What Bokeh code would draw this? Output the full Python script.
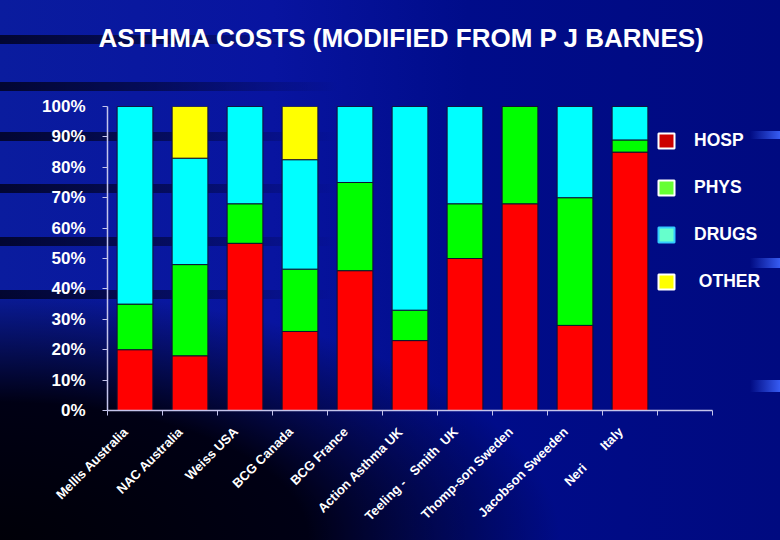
from bokeh.plotting import figure
from bokeh.models import (ColumnDataSource, Range1d, FixedTicker, PrintfTickFormatter,
                          Legend, LegendItem, Title)
from bokeh.core.properties import value
from bokeh.embed import file_html
from bokeh.resources import INLINE
import math

# ---- data ----
categories = ["Mellis Australia", "NAC Australia", "Weiss USA", "BCG Canada", "BCG France",
              "Action Asthma UK", "Teeling -\u00a0\u00a0\u00a0Smith\u00a0 UK", "Thomp-son Sweden",
              "Jacobson Sweeden", "Neri\u00a0\u00a0\u00a0\u00a0\u00a0\u00a0\u00a0Italy"]
hosp  = [20, 18, 55, 26,   46, 23, 50, 68, 28, 85]
phys  = [15, 30, 13, 20.5, 29, 10, 18, 32, 42, 4]
drugs = [65, 35, 32, 36,   25, 67, 32, 0,  30, 11]
other = [0,  17, 0,  17.5, 0,  0,  0,  0,  0,  0]
series = ["HOSP", "PHYS", "DRUGS", "OTHER"]
legend_labels = ["HOSP", "PHYS", "DRUGS", "\u00a0OTHER"]
y_ticks = [0, 10, 20, 30, 40, 50, 60, 70, 80, 90, 100]
title_text = "ASTHMA COSTS (MODIFIED FROM P J BARNES)"

bar_colors = ["#ff0000", "#00ff00", "#00ffff", "#ffff00"]
legend_fill = ["#cc0000", "#66ff33", "#66ffcc", "#ffff00"]
legend_line = ["#ffffff", "#ffffff", "#33ccff", "#ffffff"]

n_slots = len(categories) + 1          # one empty slot at the right (legend area)
axis_px = 605                          # pixel length of the drawn x axis
frame_px = 668                         # frame width (room for the legend labels)
xs = [i + 0.5 for i in range(len(categories))]
label_pos = [x - 0.17 for x in xs]
src = ColumnDataSource(dict(x=xs, HOSP=hosp, PHYS=phys, DRUGS=drugs, OTHER=other))

p = figure(width=780, height=540, output_backend="svg", toolbar_location=None,
           x_range=Range1d(0, n_slots * frame_px / axis_px), y_range=Range1d(0, 100),
           min_border_left=107, min_border_right=780 - 107 - frame_px,
           min_border_top=106, min_border_bottom=130)
p.border_fill_alpha = 0
p.background_fill_alpha = 0
p.outline_line_color = None
p.grid.visible = False

p.vbar_stack(series, x="x", width=0.65, source=src, fill_color=bar_colors,
             line_color="#101030", line_width=1)

# spacer between frame and title, then the title itself
spacer = Title(text="\u00a0", text_font="Liberation Sans", text_font_size="26px", standoff=20)
p.add_layout(spacer, "above")
t = Title(text=title_text, align="left", offset=-9, text_color="white",
          text_font="Liberation Sans", text_font_size="26px", text_font_style="bold",
          standoff=4)
p.add_layout(t, "above")

axis_col = "#c4c4ec"
# y axis
ya = p.yaxis[0]
ya.ticker = FixedTicker(ticks=y_ticks)
ya.formatter = PrintfTickFormatter(format="%d%%")
ya.axis_line_color = axis_col
ya.axis_line_width = 1.5
ya.major_tick_line_color = axis_col
ya.major_tick_out = 5
ya.major_tick_in = 0
ya.minor_tick_line_color = None
ya.major_label_text_color = "white"
ya.major_label_text_font = "Liberation Sans"
ya.major_label_text_font_style = "bold"
ya.major_label_text_font_size = "17px"
ya.major_label_standoff = 17

# x axis
xa = p.xaxis[0]
xa.bounds = (0, n_slots)
xa.ticker = FixedTicker(ticks=label_pos, minor_ticks=list(range(n_slots + 1)))
xa.major_label_overrides = {x: c for x, c in zip(label_pos, categories)}
xa.axis_line_color = axis_col
xa.axis_line_width = 1.5
xa.major_tick_line_color = None
xa.minor_tick_line_color = axis_col
xa.minor_tick_out = 5
xa.minor_tick_in = 0
xa.major_label_orientation = math.pi / 4
xa.major_label_text_color = "white"
xa.major_label_text_font = "Liberation Sans"
xa.major_label_text_font_style = "bold"
xa.major_label_text_font_size = "13px"
xa.major_label_standoff = 13

# legend (separate swatches, as in the reference)
nan = float("nan")
items = []
for name, fc, lc in zip(legend_labels, legend_fill, legend_line):
    r = p.quad(left=[nan], right=[nan], top=[nan], bottom=[nan],
               fill_color=fc, line_color=lc, line_width=2)
    items.append(LegendItem(label=value(name), renderers=[r]))
leg = Legend(items=items, location=(549, 118), padding=0, margin=0,
             border_line_color=None, background_fill_alpha=0,
             glyph_width=20, glyph_height=19, spacing=26, label_height=21,
             label_standoff=18, label_text_color="white", label_text_font="Liberation Sans",
             label_text_font_style="bold", label_text_font_size="17.5px")
p.add_layout(leg)

# slide-like background (decoration only)
stripe = "linear-gradient(90deg,rgba(0,0,22,.8) 0%,rgba(0,0,22,.5) 30%,rgba(0,0,22,0) 65%)"
streak = "linear-gradient(90deg,rgba(60,100,255,0) 0%,rgba(60,100,255,.9) 100%)"
stripe_y = [35, 82, 132, 184, 237, 290]
streak_y = [(131, 8), (258, 10), (380, 12)]
layers = [streak] * len(streak_y) + [stripe] * len(stripe_y) + [
    "radial-gradient(ellipse 560px 250px at 0% 100%,#000008 0%,#000014 55%,rgba(0,0,30,0) 100%)",
    "linear-gradient(90deg,#0a1c9e 0%,#0814a0 35%,#000c8a 60%,#000a80 100%)"]
sizes = (["30px %dpx" % h for _, h in streak_y] + ["520px 9px"] * len(stripe_y)
         + ["100% 100%", "100% 100%"])
pos = (["750px %dpx" % y for y, _ in streak_y] + ["0 %dpx" % y for y in stripe_y]
       + ["0 0", "0 0"])
style = ("<style>html,body{margin:0;padding:0;overflow:hidden;height:100%;"
         "background-image:" + ",".join(layers) + ";"
         "background-size:" + ",".join(sizes) + ";"
         "background-position:" + ",".join(pos) + ";"
         "background-repeat:no-repeat;background-color:#000a80;}</style>")
html = file_html(p, INLINE, title="Asthma costs")
html = html.replace("<head>", "<head>" + style, 1)
open("out.html", "w").write(html)
